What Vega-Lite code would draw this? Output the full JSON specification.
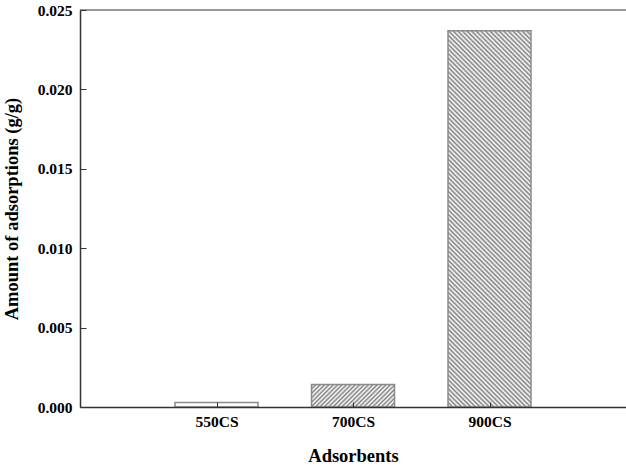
{
  "$schema": "https://vega.github.io/schema/vega-lite/v6.json",
  "width": 546,
  "height": 397,
  "autosize": {"type": "none"},
  "padding": {"left": 80, "top": 10, "right": 0, "bottom": 61},
  "background": "white",
  "config": {
    "view": {"stroke": null},
    "axis": {
      "domainColor": "#333",
      "domainWidth": 1.5,
      "tickColor": "#333",
      "tickWidth": 1,
      "labelFont": "Liberation Serif",
      "labelFontWeight": "bold",
      "labelFontSize": 15.5,
      "labelColor": "#000",
      "titleFont": "Liberation Serif",
      "titleFontWeight": "bold",
      "titleFontSize": 18.5,
      "titleColor": "#000",
      "grid": false
    }
  },
  "data": {
    "values": [
      {"name": "550CS", "amount": 0.00028},
      {"name": "700CS", "amount": 0.00141},
      {"name": "900CS", "amount": 0.0237}
    ]
  },
  "layer": [
    {
      "mark": {"type": "bar", "width": 83, "stroke": "#8a8a8a", "strokeWidth": 1.5},
      "encoding": {
        "x": {
          "field": "name",
          "type": "nominal",
          "scale": {"type": "point", "padding": 1},
          "axis": {"title": "Adsorbents", "labelAngle": 0, "tickSize": -5, "labelPadding": 12, "titlePadding": 17, "zindex": 1}
        },
        "y": {
          "field": "amount",
          "type": "quantitative",
          "scale": {"domain": [0, 0.025], "nice": false, "zero": true},
          "axis": {"title": "Amount of adsorptions (g/g)", "values": [0, 0.005, 0.01, 0.015, 0.02, 0.025], "format": ".3f", "tickSize": -6, "labelPadding": 14, "titlePadding": 16, "zindex": 1}
        },
        "fill": {
          "condition": [
            {
              "test": "datum.name === '700CS'",
              "value": {
                "gradient": "linear", "x1": 0, "y1": 0, "x2": 1.1837, "y2": 0.3196,
                "stops": [
                  {"offset": 0, "color": "#808080"}, {"offset": 0.02083, "color": "#fff"}, {"offset": 0.04167, "color": "#808080"}, {"offset": 0.0625, "color": "#fff"},
                  {"offset": 0.08333, "color": "#808080"}, {"offset": 0.10417, "color": "#fff"}, {"offset": 0.125, "color": "#808080"}, {"offset": 0.14583, "color": "#fff"},
                  {"offset": 0.16667, "color": "#808080"}, {"offset": 0.1875, "color": "#fff"}, {"offset": 0.20833, "color": "#808080"}, {"offset": 0.22917, "color": "#fff"},
                  {"offset": 0.25, "color": "#808080"}, {"offset": 0.27083, "color": "#fff"}, {"offset": 0.29167, "color": "#808080"}, {"offset": 0.3125, "color": "#fff"},
                  {"offset": 0.33333, "color": "#808080"}, {"offset": 0.35417, "color": "#fff"}, {"offset": 0.375, "color": "#808080"}, {"offset": 0.39583, "color": "#fff"},
                  {"offset": 0.41667, "color": "#808080"}, {"offset": 0.4375, "color": "#fff"}, {"offset": 0.45833, "color": "#808080"}, {"offset": 0.47917, "color": "#fff"},
                  {"offset": 0.5, "color": "#808080"}, {"offset": 0.52083, "color": "#fff"}, {"offset": 0.54167, "color": "#808080"}, {"offset": 0.5625, "color": "#fff"},
                  {"offset": 0.58333, "color": "#808080"}, {"offset": 0.60417, "color": "#fff"}, {"offset": 0.625, "color": "#808080"}, {"offset": 0.64583, "color": "#fff"},
                  {"offset": 0.66667, "color": "#808080"}, {"offset": 0.6875, "color": "#fff"}, {"offset": 0.70833, "color": "#808080"}, {"offset": 0.72917, "color": "#fff"},
                  {"offset": 0.75, "color": "#808080"}, {"offset": 0.77083, "color": "#fff"}, {"offset": 0.79167, "color": "#808080"}, {"offset": 0.8125, "color": "#fff"},
                  {"offset": 0.83333, "color": "#808080"}, {"offset": 0.85417, "color": "#fff"}, {"offset": 0.875, "color": "#808080"}, {"offset": 0.89583, "color": "#fff"},
                  {"offset": 0.91667, "color": "#808080"}, {"offset": 0.9375, "color": "#fff"}, {"offset": 0.95833, "color": "#808080"}, {"offset": 0.97917, "color": "#fff"},
                  {"offset": 1, "color": "#808080"}
                ]
              }
            },
            {
              "test": "datum.name === '900CS'",
              "value": {
                "gradient": "linear", "x1": 0, "y1": 1, "x2": 0.2566, "y2": -0.1637,
                "stops": [
                  {"offset": 0, "color": "#808080"}, {"offset": 0.005, "color": "#fff"}, {"offset": 0.01, "color": "#808080"}, {"offset": 0.015, "color": "#fff"},
                  {"offset": 0.02, "color": "#808080"}, {"offset": 0.025, "color": "#fff"}, {"offset": 0.03, "color": "#808080"}, {"offset": 0.035, "color": "#fff"},
                  {"offset": 0.04, "color": "#808080"}, {"offset": 0.045, "color": "#fff"}, {"offset": 0.05, "color": "#808080"}, {"offset": 0.055, "color": "#fff"},
                  {"offset": 0.06, "color": "#808080"}, {"offset": 0.065, "color": "#fff"}, {"offset": 0.07, "color": "#808080"}, {"offset": 0.075, "color": "#fff"},
                  {"offset": 0.08, "color": "#808080"}, {"offset": 0.085, "color": "#fff"}, {"offset": 0.09, "color": "#808080"}, {"offset": 0.095, "color": "#fff"},
                  {"offset": 0.1, "color": "#808080"}, {"offset": 0.105, "color": "#fff"}, {"offset": 0.11, "color": "#808080"}, {"offset": 0.115, "color": "#fff"},
                  {"offset": 0.12, "color": "#808080"}, {"offset": 0.125, "color": "#fff"}, {"offset": 0.13, "color": "#808080"}, {"offset": 0.135, "color": "#fff"},
                  {"offset": 0.14, "color": "#808080"}, {"offset": 0.145, "color": "#fff"}, {"offset": 0.15, "color": "#808080"}, {"offset": 0.155, "color": "#fff"},
                  {"offset": 0.16, "color": "#808080"}, {"offset": 0.165, "color": "#fff"}, {"offset": 0.17, "color": "#808080"}, {"offset": 0.175, "color": "#fff"},
                  {"offset": 0.18, "color": "#808080"}, {"offset": 0.185, "color": "#fff"}, {"offset": 0.19, "color": "#808080"}, {"offset": 0.195, "color": "#fff"},
                  {"offset": 0.2, "color": "#808080"}, {"offset": 0.205, "color": "#fff"}, {"offset": 0.21, "color": "#808080"}, {"offset": 0.215, "color": "#fff"},
                  {"offset": 0.22, "color": "#808080"}, {"offset": 0.225, "color": "#fff"}, {"offset": 0.23, "color": "#808080"}, {"offset": 0.235, "color": "#fff"},
                  {"offset": 0.24, "color": "#808080"}, {"offset": 0.245, "color": "#fff"}, {"offset": 0.25, "color": "#808080"}, {"offset": 0.255, "color": "#fff"},
                  {"offset": 0.26, "color": "#808080"}, {"offset": 0.265, "color": "#fff"}, {"offset": 0.27, "color": "#808080"}, {"offset": 0.275, "color": "#fff"},
                  {"offset": 0.28, "color": "#808080"}, {"offset": 0.285, "color": "#fff"}, {"offset": 0.29, "color": "#808080"}, {"offset": 0.295, "color": "#fff"},
                  {"offset": 0.3, "color": "#808080"}, {"offset": 0.305, "color": "#fff"}, {"offset": 0.31, "color": "#808080"}, {"offset": 0.315, "color": "#fff"},
                  {"offset": 0.32, "color": "#808080"}, {"offset": 0.325, "color": "#fff"}, {"offset": 0.33, "color": "#808080"}, {"offset": 0.335, "color": "#fff"},
                  {"offset": 0.34, "color": "#808080"}, {"offset": 0.345, "color": "#fff"}, {"offset": 0.35, "color": "#808080"}, {"offset": 0.355, "color": "#fff"},
                  {"offset": 0.36, "color": "#808080"}, {"offset": 0.365, "color": "#fff"}, {"offset": 0.37, "color": "#808080"}, {"offset": 0.375, "color": "#fff"},
                  {"offset": 0.38, "color": "#808080"}, {"offset": 0.385, "color": "#fff"}, {"offset": 0.39, "color": "#808080"}, {"offset": 0.395, "color": "#fff"},
                  {"offset": 0.4, "color": "#808080"}, {"offset": 0.405, "color": "#fff"}, {"offset": 0.41, "color": "#808080"}, {"offset": 0.415, "color": "#fff"},
                  {"offset": 0.42, "color": "#808080"}, {"offset": 0.425, "color": "#fff"}, {"offset": 0.43, "color": "#808080"}, {"offset": 0.435, "color": "#fff"},
                  {"offset": 0.44, "color": "#808080"}, {"offset": 0.445, "color": "#fff"}, {"offset": 0.45, "color": "#808080"}, {"offset": 0.455, "color": "#fff"},
                  {"offset": 0.46, "color": "#808080"}, {"offset": 0.465, "color": "#fff"}, {"offset": 0.47, "color": "#808080"}, {"offset": 0.475, "color": "#fff"},
                  {"offset": 0.48, "color": "#808080"}, {"offset": 0.485, "color": "#fff"}, {"offset": 0.49, "color": "#808080"}, {"offset": 0.495, "color": "#fff"},
                  {"offset": 0.5, "color": "#808080"}, {"offset": 0.505, "color": "#fff"}, {"offset": 0.51, "color": "#808080"}, {"offset": 0.515, "color": "#fff"},
                  {"offset": 0.52, "color": "#808080"}, {"offset": 0.525, "color": "#fff"}, {"offset": 0.53, "color": "#808080"}, {"offset": 0.535, "color": "#fff"},
                  {"offset": 0.54, "color": "#808080"}, {"offset": 0.545, "color": "#fff"}, {"offset": 0.55, "color": "#808080"}, {"offset": 0.555, "color": "#fff"},
                  {"offset": 0.56, "color": "#808080"}, {"offset": 0.565, "color": "#fff"}, {"offset": 0.57, "color": "#808080"}, {"offset": 0.575, "color": "#fff"},
                  {"offset": 0.58, "color": "#808080"}, {"offset": 0.585, "color": "#fff"}, {"offset": 0.59, "color": "#808080"}, {"offset": 0.595, "color": "#fff"},
                  {"offset": 0.6, "color": "#808080"}, {"offset": 0.605, "color": "#fff"}, {"offset": 0.61, "color": "#808080"}, {"offset": 0.615, "color": "#fff"},
                  {"offset": 0.62, "color": "#808080"}, {"offset": 0.625, "color": "#fff"}, {"offset": 0.63, "color": "#808080"}, {"offset": 0.635, "color": "#fff"},
                  {"offset": 0.64, "color": "#808080"}, {"offset": 0.645, "color": "#fff"}, {"offset": 0.65, "color": "#808080"}, {"offset": 0.655, "color": "#fff"},
                  {"offset": 0.66, "color": "#808080"}, {"offset": 0.665, "color": "#fff"}, {"offset": 0.67, "color": "#808080"}, {"offset": 0.675, "color": "#fff"},
                  {"offset": 0.68, "color": "#808080"}, {"offset": 0.685, "color": "#fff"}, {"offset": 0.69, "color": "#808080"}, {"offset": 0.695, "color": "#fff"},
                  {"offset": 0.7, "color": "#808080"}, {"offset": 0.705, "color": "#fff"}, {"offset": 0.71, "color": "#808080"}, {"offset": 0.715, "color": "#fff"},
                  {"offset": 0.72, "color": "#808080"}, {"offset": 0.725, "color": "#fff"}, {"offset": 0.73, "color": "#808080"}, {"offset": 0.735, "color": "#fff"},
                  {"offset": 0.74, "color": "#808080"}, {"offset": 0.745, "color": "#fff"}, {"offset": 0.75, "color": "#808080"}, {"offset": 0.755, "color": "#fff"},
                  {"offset": 0.76, "color": "#808080"}, {"offset": 0.765, "color": "#fff"}, {"offset": 0.77, "color": "#808080"}, {"offset": 0.775, "color": "#fff"},
                  {"offset": 0.78, "color": "#808080"}, {"offset": 0.785, "color": "#fff"}, {"offset": 0.79, "color": "#808080"}, {"offset": 0.795, "color": "#fff"},
                  {"offset": 0.8, "color": "#808080"}, {"offset": 0.805, "color": "#fff"}, {"offset": 0.81, "color": "#808080"}, {"offset": 0.815, "color": "#fff"},
                  {"offset": 0.82, "color": "#808080"}, {"offset": 0.825, "color": "#fff"}, {"offset": 0.83, "color": "#808080"}, {"offset": 0.835, "color": "#fff"},
                  {"offset": 0.84, "color": "#808080"}, {"offset": 0.845, "color": "#fff"}, {"offset": 0.85, "color": "#808080"}, {"offset": 0.855, "color": "#fff"},
                  {"offset": 0.86, "color": "#808080"}, {"offset": 0.865, "color": "#fff"}, {"offset": 0.87, "color": "#808080"}, {"offset": 0.875, "color": "#fff"},
                  {"offset": 0.88, "color": "#808080"}, {"offset": 0.885, "color": "#fff"}, {"offset": 0.89, "color": "#808080"}, {"offset": 0.895, "color": "#fff"},
                  {"offset": 0.9, "color": "#808080"}, {"offset": 0.905, "color": "#fff"}, {"offset": 0.91, "color": "#808080"}, {"offset": 0.915, "color": "#fff"},
                  {"offset": 0.92, "color": "#808080"}, {"offset": 0.925, "color": "#fff"}, {"offset": 0.93, "color": "#808080"}, {"offset": 0.935, "color": "#fff"},
                  {"offset": 0.94, "color": "#808080"}, {"offset": 0.945, "color": "#fff"}, {"offset": 0.95, "color": "#808080"}, {"offset": 0.955, "color": "#fff"},
                  {"offset": 0.96, "color": "#808080"}, {"offset": 0.965, "color": "#fff"}, {"offset": 0.97, "color": "#808080"}, {"offset": 0.975, "color": "#fff"},
                  {"offset": 0.98, "color": "#808080"}, {"offset": 0.985, "color": "#fff"}, {"offset": 0.99, "color": "#808080"}, {"offset": 0.995, "color": "#fff"},
                  {"offset": 1, "color": "#808080"}
                ]
              }
            }
          ],
          "value": "#ffffff"
        }
      }
    },
    {
      "mark": {"type": "rule", "color": "#999", "strokeWidth": 1.5},
      "encoding": {"y": {"datum": 0.025, "type": "quantitative"}}
    }
  ]
}
